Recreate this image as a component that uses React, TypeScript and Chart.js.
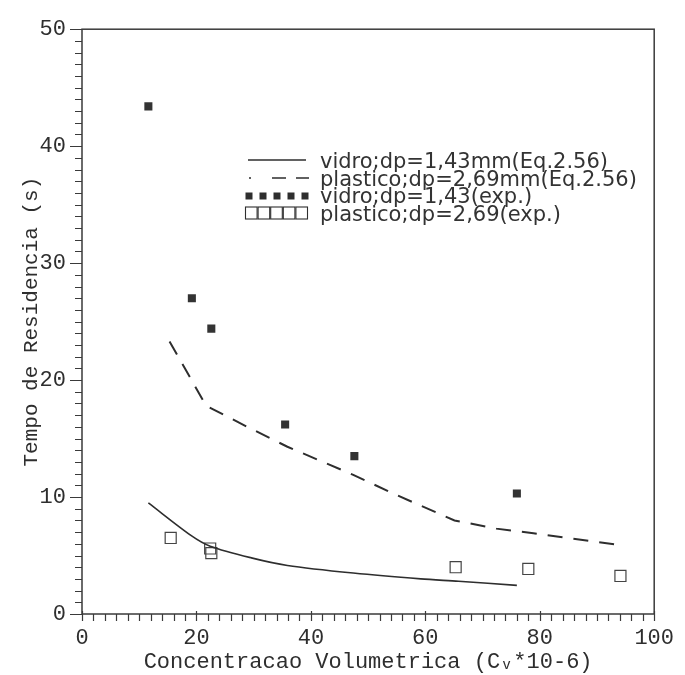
import React, { useEffect, useRef } from 'react';
import { Chart, registerables } from 'chart.js';

Chart.register(...registerables);

// Series values (x = Concentracao Volumetrica, y = Tempo de Residencia)
const vidroEqX = [11.6, 19.1, 22.4, 29.6, 35.9, 47.4, 59.2, 65.8, 76.0];
const vidroEqY = [9.5, 6.7, 5.8, 4.8, 4.15, 3.5, 3.0, 2.8, 2.45];
const plasticoEqX = [15.3, 21.7, 28.9, 35.9, 47.4, 54.6, 65.1, 72.4, 78.9, 85.5, 94.1];
const plasticoEqY = [23.3, 17.8, 16.0, 14.3, 11.9, 10.25, 8.0, 7.3, 6.9, 6.45, 5.9];
const vidroExpX = [11.6, 19.2, 22.6, 35.5, 47.6, 76.0];
const vidroExpY = [43.4, 27.0, 24.4, 16.2, 13.5, 10.3];
const plasticoExpX = [15.5, 22.4, 22.6, 65.3, 78.0, 94.1];
const plasticoExpY = [6.5, 5.6, 5.2, 4.0, 3.85, 3.25];

const seriesLabels = [
  'vidro;dp=1,43mm(Eq.2.56)',
  'plastico;dp=2,69mm(Eq.2.56)',
  'vidro;dp=1,43(exp.)',
  'plastico;dp=2,69(exp.)',
];

const xTickLabels = ['0', '20', '40', '60', '80', '100'];
const yTickLabels = ['0', '10', '20', '30', '40', '50'];
const xTitle = 'Concentracao Volumetrica (Cᵥ*10-6)';
const yTitle = 'Tempo de Residencia (s)';

const INK = '#2e2e2e';

const zip = (xs: number[], ys: number[]) => xs.map((x, i) => ({ x, y: ys[i] }));

const framePlugin = {
  id: 'frameTicks',
  afterDraw(chart: any) {
    const { ctx, chartArea } = chart;
    const xs = chart.scales.x;
    const ys = chart.scales.y;
    ctx.save();
    ctx.strokeStyle = '#3a3a3a';
    ctx.lineWidth = 1.5;
    ctx.strokeRect(chartArea.left, chartArea.top, chartArea.right - chartArea.left, chartArea.bottom - chartArea.top);
    ctx.lineWidth = 1.2;
    ctx.beginPath();
    for (let v = 0; v <= 100; v += 2) {
      const px = Math.round(xs.getPixelForValue(v)) + 0.5;
      const major = v % 20 === 0;
      ctx.moveTo(px, chartArea.bottom - (major ? 3 : 0));
      ctx.lineTo(px, chartArea.bottom + 7);
    }
    for (let v = 0; v <= 50; v += 1) {
      const py = Math.round(ys.getPixelForValue(v)) + 0.5;
      const major = v % 10 === 0;
      ctx.moveTo(chartArea.left - (major ? 12 : 7), py);
      ctx.lineTo(chartArea.left, py);
    }
    ctx.stroke();
    ctx.restore();
  },
};

const legendPlugin = {
  id: 'customLegend',
  afterDraw(chart: any) {
    const { ctx } = chart;
    const labels = chart.data.datasets.map((d: any) => d.label);
    const rows = [168, 186, 203, 221];
    const symY = [160, 178, 196, 213];
    ctx.save();
    ctx.fillStyle = INK;
    ctx.strokeStyle = INK;
    ctx.lineWidth = 1.6;
    ctx.beginPath();
    ctx.moveTo(248, symY[0]);
    ctx.lineTo(306, symY[0]);
    ctx.stroke();
    ctx.beginPath();
    ctx.moveTo(249, symY[1]);
    ctx.lineTo(251, symY[1]);
    ctx.moveTo(272, symY[1]);
    ctx.lineTo(286, symY[1]);
    ctx.moveTo(296, symY[1]);
    ctx.lineTo(309, symY[1]);
    ctx.stroke();
    for (let i = 0; i < 5; i++) {
      const cx = 249 + i * 14;
      ctx.fillRect(cx - 3.5, symY[2] - 3.5, 7, 7);
    }
    ctx.lineWidth = 1.1;
    for (let i = 0; i < 5; i++) {
      const x0 = 245 + i * 12.6;
      ctx.strokeRect(x0 + 0.5, symY[3] - 6, 11.6, 12);
    }
    ctx.font = '21px "DejaVu Sans"';
    ctx.textBaseline = 'alphabetic';
    ctx.textAlign = 'left';
    ctx.fillStyle = '#333';
    labels.forEach((t: string, i: number) => ctx.fillText(t, 320, rows[i]));
    ctx.restore();
  },
};

export default function App() {
  const ref = useRef<HTMLCanvasElement>(null);
  useEffect(() => {
    if (!ref.current) return;
    const chart = new Chart(ref.current, {
      type: 'scatter',
      data: {
        datasets: [
          {
            label: seriesLabels[0],
            data: zip(vidroEqX, vidroEqY),
            showLine: true,
            borderColor: INK,
            borderWidth: 1.6,
            pointRadius: 0,
            tension: 0.3,
          },
          {
            label: seriesLabels[1],
            data: zip(plasticoEqX, plasticoEqY),
            showLine: true,
            borderColor: INK,
            borderWidth: 2,
            borderDash: [15, 11],
            pointRadius: 0,
            tension: 0,
          },
          {
            label: seriesLabels[2],
            data: zip(vidroExpX, vidroExpY),
            showLine: false,
            pointStyle: 'rect',
            pointRadius: 5.7,
            backgroundColor: '#333',
            borderColor: '#333',
            borderWidth: 0,
          },
          {
            label: seriesLabels[3],
            data: zip(plasticoExpX, plasticoExpY),
            showLine: false,
            pointStyle: 'rect',
            pointRadius: 7.8,
            backgroundColor: 'rgba(255,255,255,0)',
            borderColor: '#444',
            borderWidth: 1.2,
          },
        ],
      },
      options: {
        responsive: false,
        animation: false,
        layout: { padding: { top: 25, right: 24, left: 0, bottom: 0 } },
        plugins: { legend: { display: false }, tooltip: { enabled: false } },
        scales: {
          x: {
            type: 'linear',
            min: 0,
            max: 100,
            grid: { display: false, drawTicks: false },
            border: { display: false },
            ticks: {
              stepSize: 20,
              padding: 11,
              color: INK,
              font: { family: '"Liberation Mono"', size: 22 },
              callback: (v: any) => xTickLabels[Math.round(Number(v) / 20)] ?? '',
              maxRotation: 0,
            },
            title: {
              display: true,
              text: xTitle,
              color: INK,
              font: { family: '"Liberation Mono"', size: 22 },
              padding: { top: 0, bottom: 0 },
            },
            afterFit: (s: any) => { s.height = 61; },
          },
          y: {
            type: 'linear',
            min: 0,
            max: 50,
            grid: { display: false, drawTicks: false },
            border: { display: false },
            ticks: {
              stepSize: 10,
              padding: 16,
              color: INK,
              font: { family: '"Liberation Mono"', size: 22 },
              callback: (v: any) => yTickLabels[Math.round(Number(v) / 10)] ?? '',
            },
            title: {
              display: true,
              text: yTitle,
              color: INK,
              font: { family: '"Liberation Mono"', size: 21 },
              padding: { top: 19, bottom: 0 },
            },
            afterFit: (s: any) => { s.width = 82; },
          },
        },
      },
      plugins: [framePlugin, legendPlugin],
    });
    return () => chart.destroy();
  }, []);
  return (
    <div style={{ position: 'absolute', left: 0, top: 0, width: 685, height: 675, background: '#fff' }}>
      <canvas ref={ref} width={685} height={675} style={{ display: 'block' }} />
    </div>
  );
}
